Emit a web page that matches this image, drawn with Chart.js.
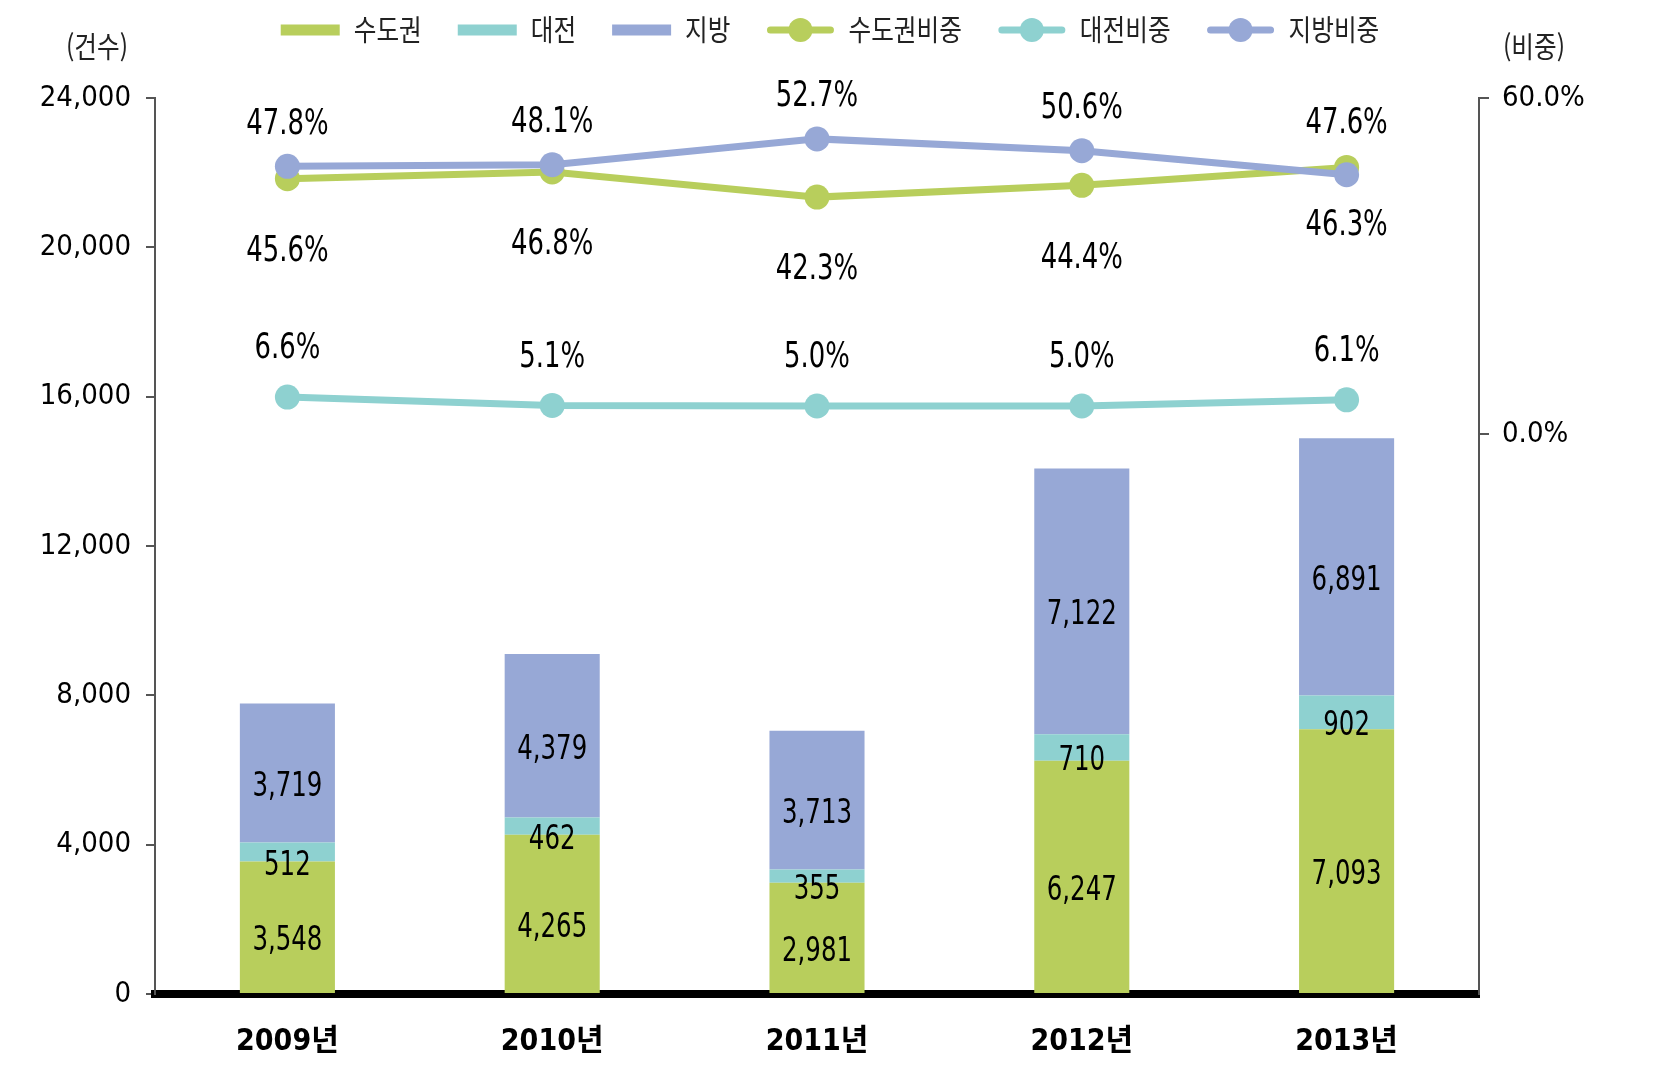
<!DOCTYPE html>
<html lang="ko">
<head>
<meta charset="utf-8">
<title>연도별 건수 및 비중</title>
<script src="https://cdn.jsdelivr.net/npm/chart.js@4.4.1/dist/chart.umd.min.js"></script>
<style>
  html, body { margin: 0; padding: 0; background: #fff; }
  canvas { display: block; }
</style>
</head>
<body>
<canvas id="chart" width="1654" height="1068"></canvas>
<script>
// =====================
// Data
// =====================

const years = ['2009년', '2010년', '2011년', '2012년', '2013년'];
const capitalCounts = [3548, 4265, 2981, 6247, 7093];
const daejeonCounts = [512, 462, 355, 710, 902];
const regionCounts = [3719, 4379, 3713, 7122, 6891];
const capitalShare = [45.6, 46.8, 42.3, 44.4, 47.6];
const daejeonShare = [6.6, 5.1, 5.0, 5.0, 6.1];
const regionShare = [47.8, 48.1, 52.7, 50.6, 46.3];
const countTicks = [0, 4000, 8000, 12000, 16000, 20000, 24000];
const shareTicks = [0, 60];

// =====================
// Look
// =====================

const GREEN = '#b8ce5c';
const TEAL = '#8ed1d0';
const BLUE = '#97a8d6';
const AXIS = '#555555';
const NUM_FONT = "'Liberation Sans Narrow', 'DejaVu Sans Condensed', 'Noto Sans CJK KR', sans-serif";
const KO_FONT = "'Noto Sans CJK KR', sans-serif";
const NARROW = 0.8; // horizontal squeeze for the condensed look of the original

// vertical offset (px) of each percent label from its point
const shareLabelOffsets = {
  '수도권비중': [73, 73, 73, 73, -44],
  '대전비중': [-48, -48, -48, -48, -48],
  '지방비중': [-42, -42, -42, -42, 51]
};

// draw text squeezed horizontally around its anchor
function narrowText(ctx, text, x, y, sx) {
  ctx.save();
  ctx.translate(x, y);
  ctx.scale(sx, 1);
  ctx.fillText(text, 0, 0);
  ctx.restore();
}

// =====================
// Plugins
// =====================

const valueLabels = {
  id: 'valueLabels',
  afterDatasetsDraw(chart) {
    const ctx = chart.ctx;
    ctx.save();
    ctx.fillStyle = '#000';
    ctx.textAlign = 'center';
    ctx.textBaseline = 'middle';
    chart.data.datasets.forEach((ds, i) => {
      const meta = chart.getDatasetMeta(i);
      meta.data.forEach((el, j) => {
        const v = ds.data[j];
        if (ds.type === 'line') {
          ctx.font = `36px ${NUM_FONT}`;
          narrowText(ctx, v.toFixed(1) + '%', el.x, el.y + shareLabelOffsets[ds.label][j], NARROW);
        } else {
          ctx.font = `34px ${NUM_FONT}`;
          narrowText(ctx, v.toLocaleString('en-US'), el.x, (el.y + el.base) / 2 + 14, NARROW);
        }
      });
    });
    ctx.restore();
  }
};

const legendAndTitles = {
  id: 'legendAndTitles',
  afterDraw(chart) {
    const ctx = chart.ctx;
    const sx = 0.85;
    ctx.save();
    ctx.font = `29px ${KO_FONT}`;
    ctx.textBaseline = 'middle';
    const items = chart.data.datasets.map(ds => ({
      text: ds.label,
      color: ds.type === 'line' ? ds.borderColor : ds.backgroundColor,
      isLine: ds.type === 'line'
    }));
    const gap = 36;
    const widths = items.map(it => (it.isLine ? 68 : 59) + 14 + ctx.measureText(it.text).width * sx);
    const total = widths.reduce((a, b) => a + b, 0) + gap * (items.length - 1);
    let x = (chart.width - total) / 2 + 3;
    const y = 30;
    items.forEach((it, i) => {
      let sw = 59;
      if (it.isLine) {
        sw = 68;
        ctx.strokeStyle = it.color;
        ctx.lineWidth = 7;
        ctx.lineCap = 'round';
        ctx.beginPath();
        ctx.moveTo(x + 4, y);
        ctx.lineTo(x + sw - 4, y);
        ctx.stroke();
        ctx.fillStyle = it.color;
        ctx.beginPath();
        ctx.arc(x + sw / 2, y, 12, 0, Math.PI * 2);
        ctx.fill();
      } else {
        ctx.fillStyle = it.color;
        ctx.fillRect(x, y - 5.5, sw, 11);
      }
      ctx.fillStyle = '#222';
      ctx.textAlign = 'left';
      narrowText(ctx, it.text, x + sw + 14, y, sx);
      x += widths[i] + gap;
    });

    // axis titles
    ctx.textAlign = 'center';
    ctx.fillStyle = '#222';
    narrowText(ctx, '(건수)', 97, 47, sx);
    narrowText(ctx, '(비중)', 1534, 47, sx);
    ctx.restore();
  }
};

// =====================
// Chart
// =====================

const barStyle = { type: 'bar', yAxisID: 'y', borderWidth: 0, order: 3 };
const lineStyle = {
  type: 'line', yAxisID: 'y1', borderWidth: 7,
  pointRadius: 12.5, pointHoverRadius: 12.5, pointBorderWidth: 0, tension: 0
};

new Chart(document.getElementById('chart'), {
  data: {
    labels: years,
    datasets: [
      { ...barStyle, label: '수도권', data: capitalCounts, backgroundColor: GREEN },
      { ...barStyle, label: '대전', data: daejeonCounts, backgroundColor: TEAL },
      { ...barStyle, label: '지방', data: regionCounts, backgroundColor: BLUE },
      { ...lineStyle, label: '수도권비중', data: capitalShare, borderColor: GREEN, backgroundColor: GREEN, pointBackgroundColor: GREEN, order: 1 },
      { ...lineStyle, label: '대전비중', data: daejeonShare, borderColor: TEAL, backgroundColor: TEAL, pointBackgroundColor: TEAL, order: 2 },
      { ...lineStyle, label: '지방비중', data: regionShare, borderColor: BLUE, backgroundColor: BLUE, pointBackgroundColor: BLUE, order: 0 }
    ]
  },
  options: {
    responsive: false,
    animation: false,
    devicePixelRatio: 1,
    layout: { padding: { top: 98, left: 0, right: 0, bottom: 0 } },
    datasets: { bar: { categoryPercentage: 1, barPercentage: 0.359 } },
    plugins: {
      legend: { display: false },
      tooltip: { enabled: false }
    },
    scales: {
      x: {
        stacked: true,
        offset: true,
        grid: { display: false, drawTicks: false },
        border: { display: true, color: '#000', width: 8 },
        ticks: { color: '#000', padding: 30, font: { family: NUM_FONT, size: 30, weight: 'bold' } },
        afterFit: s => { s.height = 74; }
      },
      y: {
        stacked: true,
        position: 'left',
        min: 0,
        max: 24000,
        afterBuildTicks: s => { s.ticks = countTicks.map(v => ({ value: v })); },
        grid: { drawOnChartArea: false, drawTicks: true, tickLength: 9, color: AXIS, lineWidth: 2 },
        border: { display: true, color: AXIS, width: 2 },
        ticks: {
          color: '#000', padding: 15,
          font: { family: NUM_FONT, size: 29 },
          callback: v => v.toLocaleString('en-US')
        },
        afterFit: s => { s.width = 155; }
      },
      y1: {
        position: 'right',
        min: -100,
        max: 60,
        afterBuildTicks: s => { s.ticks = shareTicks.map(v => ({ value: v })); },
        grid: { drawOnChartArea: false, drawTicks: true, tickLength: 10, color: AXIS, lineWidth: 2 },
        border: { display: true, color: AXIS, width: 2 },
        ticks: {
          color: '#000', padding: 13,
          font: { family: NUM_FONT, size: 29 },
          callback: v => v.toFixed(1) + '%'
        },
        afterFit: s => { s.width = 175; }
      }
    }
  },
  plugins: [valueLabels, legendAndTitles]
});
</script>
</body>
</html>
